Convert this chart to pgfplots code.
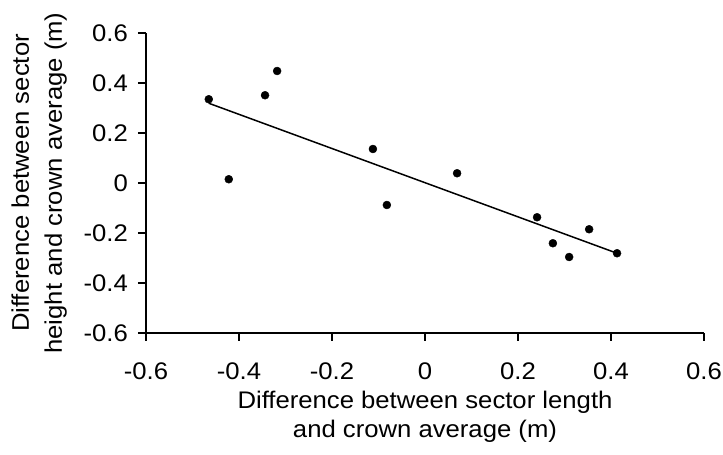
\documentclass[border=0pt]{standalone}
\usepackage{fontspec}
\setmainfont{Liberation Sans}[FakeStretch=1.07]
\usepackage{pgfplots}
\pgfplotsset{compat=1.18}
\begin{document}
\fontsize{24}{29}\selectfont
\begin{tikzpicture}
\path[use as bounding box] (0,0) rectangle (723pt,455pt);
\begin{axis}[
    at={(146pt,122pt)}, anchor=south west,
    scale only axis,
    width=558pt, height=300pt,
    xmin=-0.6, xmax=0.6,
    ymin=-0.6, ymax=0.6,
    axis x line=bottom, axis y line=left,
    axis line style={-, line width=1.2pt},
    tick style={line width=1.2pt, black},
    tick align=outside,
    major tick length=8pt,
    xtick={-0.6,-0.4,-0.2,0,0.2,0.4,0.6},
    xticklabels={-0.6,-0.4,-0.2,0,0.2,0.4,0.6},
    ytick={-0.6,-0.4,-0.2,0,0.2,0.4,0.6},
    yticklabels={-0.6,-0.4,-0.2,0,0.2,0.4,0.6},
    ticklabel style={font=\fontsize{24}{29}\selectfont},
    xticklabel style={yshift=-14pt},
    yticklabel style={xshift=-2pt},
    xlabel={Difference between sector length\\and crown average (m)},
    ylabel={Difference between sector\\[4pt]height and crown average (m)},
    xlabel style={at={(axis description cs:0.5,-0.1933)}, anchor=north,
        inner sep=0pt, align=center, font=\fontsize{24}{29}\selectfont},
    ylabel style={at={(axis description cs:-0.1416,0.5)}, anchor=south,
        inner sep=0pt, align=center, font=\fontsize{24}{29}\selectfont},
    clip=false,
]
% Trendlinje
\addplot[black, line width=1.5pt] coordinates {
    (-0.465,0.319)
    (0.413,-0.281)
};
% Mätpunkter
\addplot[only marks, mark=*, mark size=4pt, black] table {
x y
-0.465 0.335
-0.422 0.015
-0.344 0.351
-0.318 0.448
-0.112 0.136
-0.082 -0.088
0.069 0.039
0.241 -0.137
0.275 -0.241
0.310 -0.296
0.353 -0.185
0.413 -0.281
};
\end{axis}
\end{tikzpicture}
\end{document}
